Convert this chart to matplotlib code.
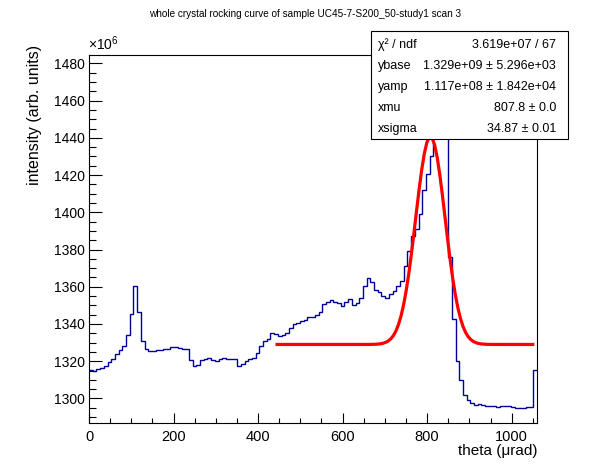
import numpy as np
import matplotlib
matplotlib.use("Agg")
import matplotlib.pyplot as plt
from matplotlib.patches import Rectangle
from matplotlib.ticker import MultipleLocator

plt.rcParams['font.family'] = ['Liberation Sans', 'DejaVu Sans']
plt.rcParams['mathtext.fontset'] = 'custom'
plt.rcParams['mathtext.rm'] = 'Liberation Sans'
plt.rcParams['mathtext.it'] = 'Liberation Sans:italic'

# ---- data (intensity in units of 1e6) ----
x_range = [0.0, 1060.0]
intensity = [
    1315.4, 1314.9, 1315.8, 1316.3, 1317.2, 1319.7, 1321.3, 1324.0, 1326.2, 1328.3,
    1333.9, 1345.1, 1360.2, 1346.6, 1331.0, 1326.7, 1325.6, 1325.6, 1326.2, 1326.2,
    1326.7, 1326.7, 1327.4, 1327.8, 1327.0, 1326.5, 1326.3, 1320.4, 1317.6, 1318.1,
    1320.8, 1321.3, 1321.9, 1320.8, 1319.9, 1321.3, 1321.9, 1321.3, 1321.3, 1321.3,
    1317.6, 1318.6, 1320.3, 1321.3, 1321.9, 1324.6, 1327.9, 1331.0, 1332.1, 1334.9,
    1334.4, 1333.3, 1334.2, 1334.9, 1337.8, 1339.8, 1340.5, 1341.4, 1342.4, 1343.9,
    1343.9, 1345.0, 1346.6, 1350.5, 1352.0, 1353.0, 1352.0, 1351.4, 1349.8, 1352.0,
    1353.6, 1350.3, 1351.4, 1354.1, 1360.6, 1364.9, 1362.7, 1358.4, 1357.3, 1355.2,
    1354.1, 1356.3, 1357.9, 1360.6, 1362.9, 1370.9, 1379.0, 1387.4, 1390.8, 1399.2,
    1411.8, 1420.7, 1430.4, 1441.0, 1462.0, 1475.0, 1470.0, 1375.9, 1342.8, 1320.3,
    1310.0, 1302.0, 1299.3, 1297.7, 1296.6, 1297.2, 1296.6, 1295.7, 1296.1, 1296.1,
    1295.2, 1295.7, 1296.1, 1296.1, 1295.5, 1295.0, 1295.0, 1294.8, 1295.2, 1295.2,
    1315.4,
]

# fit parameters (from the stats box)
fit_range = [445.0, 1050.0]
par_names = ["ybase", "yamp", "xmu", "xsigma"]
par_values = [1.329e9, 1.117e8, 807.8, 34.87]

stat_labels = ["χ² / ndf", "ybase", "yamp", "xmu", "xsigma"]
stat_texts = ["3.619e+07 / 67", "1.329e+09 ± 5.296e+03", "1.117e+08 ± 1.842e+04",
              "807.8 ± 0.0", "34.87 ± 0.01"]

title = "whole crystal rocking curve of sample UC45-7-S200_50-study1 scan 3"

# ---- figure ----
W, H = 596, 472
fig = plt.figure(figsize=(W / 100, H / 100), dpi=100)
fig.patch.set_facecolor('white')

fl, fr, ft, fb = 89, 537, 55, 423
ax = fig.add_axes([fl / W, 1 - fb / H, (fr - fl) / W, (fb - ft) / H])

edges = np.linspace(x_range[0], x_range[1], len(intensity) + 1)
ax.stairs(intensity, edges, baseline=None, color='#000099', lw=1.0)

ybase, yamp, xmu, xsig = par_values
xf = np.linspace(fit_range[0], fit_range[1], 100)
yf = (ybase + yamp * np.exp(-0.5 * ((xf - xmu) / xsig) ** 2)) / 1e6
ax.plot(xf, yf, color='#ff0000', lw=2.3)

ax.set_xlim(0, 1060)
ax.set_ylim(1286.8, 1484.5)

ax.xaxis.set_major_locator(MultipleLocator(200))
ax.xaxis.set_minor_locator(MultipleLocator(50))
ax.yaxis.set_major_locator(MultipleLocator(20))
ax.yaxis.set_minor_locator(MultipleLocator(5))

ax.tick_params(axis='x', which='major', direction='in', length=7.2, width=0.8,
               labelsize=10.5, pad=5, top=False)
ax.tick_params(axis='x', which='minor', direction='in', length=3.6, width=0.8, top=False)
ax.tick_params(axis='y', which='major', direction='in', length=9.6, width=0.8,
               labelsize=10, pad=3, right=False)
ax.tick_params(axis='y', which='minor', direction='in', length=5.0, width=0.8, right=False)
for s in ax.spines.values():
    s.set_linewidth(0.8)

# axis titles
fig.text(537 / W, 1 - 451 / H, "theta (μrad)", ha='right', va='center', fontsize=11)
fig.text(35 / W, 1 - 45 / H, "intensity (arb. units)", ha='center', va='top',
         rotation=90, fontsize=11.5)
fig.text(88 / W, 1 - 53 / H, "×10$^{6}$", ha='left', va='bottom', fontsize=10)

# title
fig.text(305 / W, 1 - 14 / H, title, ha='center', va='center', fontsize=7.2)

# stats box
bx0, bx1, by0, by1 = 371, 567.5, 31, 139
rect = Rectangle((bx0 / W, 1 - by1 / H), (bx1 - bx0) / W, (by1 - by0) / H,
                 transform=fig.transFigure, facecolor='white', edgecolor='black',
                 lw=0.8, zorder=10)
fig.add_artist(rect)
row_y = [45, 66, 87, 108, 129]
for lab, txt, yy in zip(stat_labels, stat_texts, row_y):
    t1 = fig.text(378 / W, 1 - yy / H, lab, ha='left', va='center', fontsize=9)
    t2 = fig.text(556 / W, 1 - yy / H, txt, ha='right', va='center', fontsize=9)
    t1.set_zorder(11)
    t2.set_zorder(11)

fig.savefig("out.png", dpi=100, facecolor='white')
